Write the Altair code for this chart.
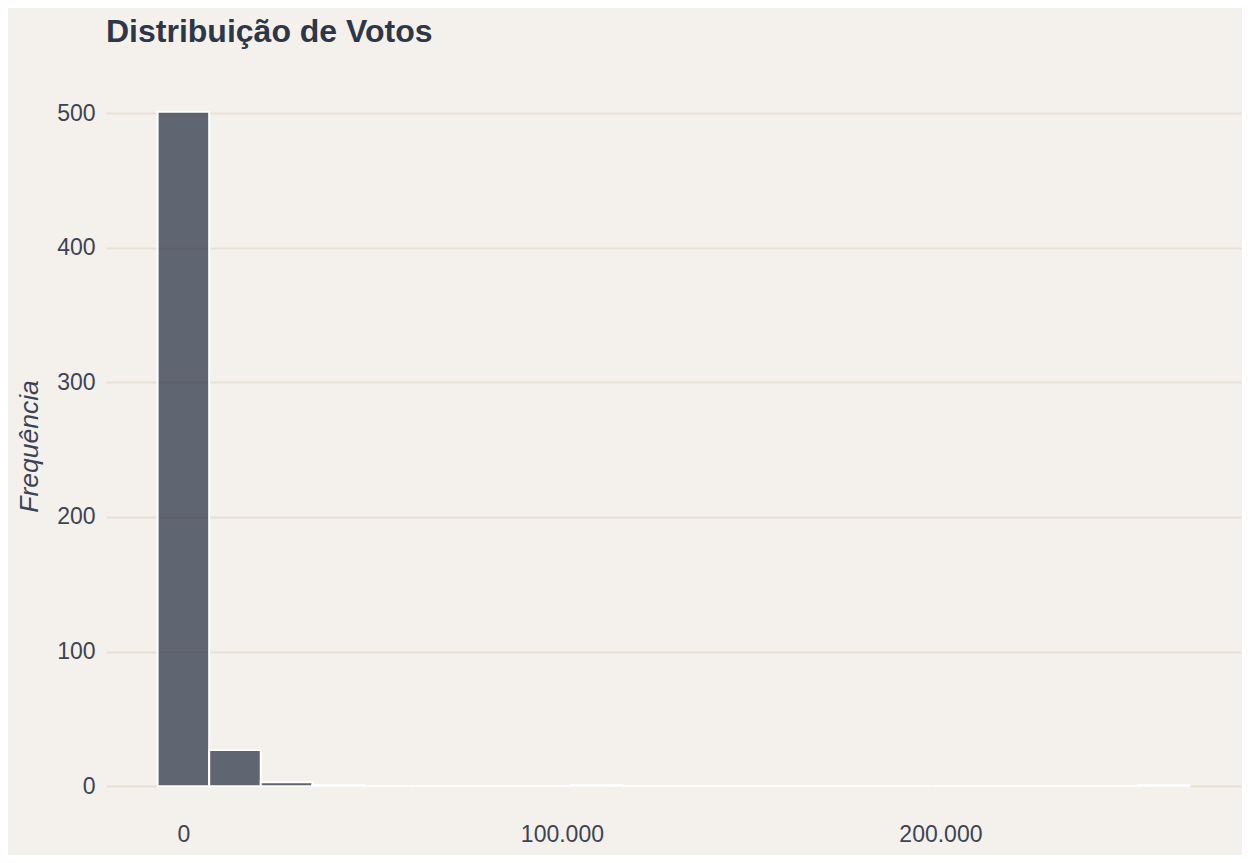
import altair as alt
import pandas as pd

# Histogram bins (center of each bin, in votes) and their frequencies
bin_centers = [0, 13630, 27260, 40890, 54520, 68150, 81780, 95410, 109040, 122670,
               136300, 149930, 163560, 177190, 190820, 204450, 218080, 231710, 245340, 258970]
counts = [501, 27, 3, 1, 0, 0, 0, 0, 1, 0, 0, 0, 0, 0, 0, 0, 0, 0, 0, 1]
bin_width = 13630
x_ticks = [0, 100000, 200000]
y_ticks = [0, 100, 200, 300, 400, 500]

df = pd.DataFrame({"center": bin_centers, "count": counts})
df["start"] = df["center"] - bin_width / 2
df["end"] = df["center"] + bin_width / 2
df["base"] = 0

x_lo = bin_centers[0] - bin_width / 2
x_hi = bin_centers[-1] + bin_width / 2
x_pad = (x_hi - x_lo) * 0.05
y_max = max(counts)
y_pad = y_max * 0.05

label_color = "#3c4454"
font = "Liberation Sans"

chart = alt.Chart(df).mark_bar(
    fill="#2d3748", fillOpacity=0.75, stroke="white", strokeWidth=2
).encode(
    x=alt.X(
        "start:Q",
        scale=alt.Scale(domain=[x_lo - x_pad, x_hi + x_pad], nice=False, zero=False),
        axis=alt.Axis(
            values=x_ticks,
            labelExpr="replace(format(datum.value, ','), ',', '.')",
            title=None, grid=False, ticks=False, domain=False,
            labelFontSize=23, labelColor=label_color, labelPadding=3, labelFont=font,
        ),
    ),
    x2="end:Q",
    y=alt.Y(
        "count:Q",
        scale=alt.Scale(domain=[-y_pad, y_max + y_pad], nice=False, zero=False),
        axis=alt.Axis(
            values=y_ticks, title="Frequência", grid=True, ticks=False, domain=False,
            gridColor="#e8dfd5", gridWidth=1.8,
            labelFontSize=23, labelColor=label_color, labelPadding=11, labelFont=font,
            titleFontSize=26.5, titleFontStyle="italic", titleFontWeight="normal",
            titleColor=label_color, titleFont=font, titleX=-63, titleY=368,
        ),
    ),
    y2="base:Q",
).properties(
    width=1135,
    height=742,
    background="#f4f1ec",
    padding={"left": 98, "top": 70, "right": 1, "bottom": 35},
    autosize=alt.AutoSizeParams(type="none"),
    title=alt.TitleParams(
        "Distribuição de Votos", anchor="start", frame="group", fontSize=32,
        fontWeight="bold", color="#2d3748", offset=29, font=font,
    ),
).configure_view(stroke=None)

chart.save("out.html", embed_options={"renderer": "svg", "actions": False})
